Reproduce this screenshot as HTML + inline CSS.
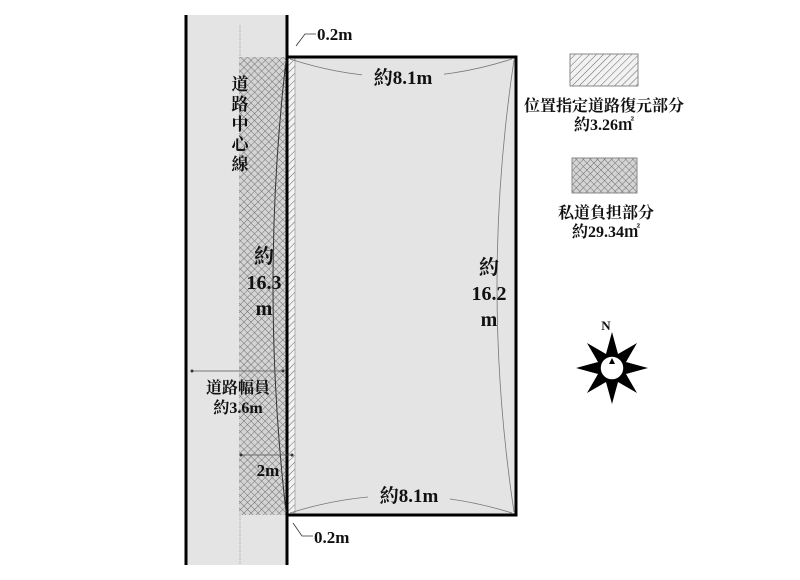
<!DOCTYPE html>
<html><head><meta charset="utf-8">
<style>
body{margin:0;background:#fff;}
svg{display:block;}
text{font-family:"Liberation Serif","Noto Serif CJK SC",serif;fill:#111;font-weight:bold;}
</style></head><body>
<svg width="800" height="580" viewBox="0 0 800 580" xmlns="http://www.w3.org/2000/svg">
<defs>
<pattern id="hatch" width="5" height="5" patternUnits="userSpaceOnUse" patternTransform="rotate(45)">
<rect width="5" height="5" fill="#f2f2f2"/><line x1="0" y1="0" x2="0" y2="5" stroke="#666" stroke-width="1"/>
</pattern>
<pattern id="cross" width="5" height="5" patternUnits="userSpaceOnUse" patternTransform="rotate(45)">
<rect width="5" height="5" fill="#d4d4d4"/><line x1="0" y1="0" x2="0" y2="5" stroke="#666" stroke-width="0.9"/><line x1="0" y1="0" x2="5" y2="0" stroke="#666" stroke-width="0.9"/>
</pattern>
</defs>
<rect x="186" y="15" width="101" height="550" fill="#e4e4e4"/>
<line x1="240" y1="25" x2="240" y2="565" stroke="#999" stroke-width="0.8" stroke-dasharray="1,1"/>
<rect x="239" y="57" width="48" height="458" fill="url(#cross)"/>
<rect x="287" y="57" width="229" height="458" fill="#e4e4e4"/>
<rect x="288" y="57" width="7" height="458" fill="url(#hatch)"/>
<line x1="295" y1="57" x2="295" y2="515" stroke="#999" stroke-width="0.7"/>
<line x1="186" y1="15" x2="186" y2="565" stroke="#000" stroke-width="3"/>
<line x1="287" y1="15" x2="287" y2="565" stroke="#000" stroke-width="3"/>
<polyline points="287,57 516,57 516,515 287,515" fill="none" stroke="#000" stroke-width="3"/>
<path d="M290,59 Q400,95 512,59" fill="none" stroke="#777" stroke-width="0.8"/>
<path d="M290,513 Q400,478 512,513" fill="none" stroke="#777" stroke-width="0.8"/>
<path d="M514,60 Q480,286 514,512" fill="none" stroke="#777" stroke-width="0.8"/>
<path d="M286,60 Q260,286 286,512" fill="none" stroke="#333" stroke-width="1"/>
<rect x="362" y="66" width="82" height="22" fill="#e4e4e4"/>
<text x="403" y="84" font-size="19" text-anchor="middle">約8.1m</text>
<rect x="368" y="484" width="82" height="22" fill="#e4e4e4"/>
<text x="409" y="502" font-size="19" text-anchor="middle">約8.1m</text>
<text x="489" y="274" font-size="20" text-anchor="middle">約</text>
<text x="489" y="300" font-size="20" text-anchor="middle">16.2</text>
<text x="489" y="326" font-size="20" text-anchor="middle">m</text>
<text x="264" y="263" font-size="20" text-anchor="middle">約</text>
<text x="264" y="289" font-size="20" text-anchor="middle">16.3</text>
<text x="264" y="315" font-size="20" text-anchor="middle">m</text>
<g font-size="17" text-anchor="middle">
<text x="240" y="90">道</text><text x="240" y="110">路</text><text x="240" y="130">中</text><text x="240" y="150">心</text><text x="240" y="170">線</text>
</g>
<line x1="192" y1="371" x2="284" y2="371" stroke="#555" stroke-width="0.8"/>
<circle cx="192" cy="371" r="1.5" fill="#333"/><circle cx="283" cy="371" r="1.5" fill="#333"/>
<text x="238" y="393" font-size="16" text-anchor="middle">道路幅員</text>
<text x="238" y="413" font-size="16" text-anchor="middle">約3.6m</text>
<line x1="240" y1="455" x2="293" y2="455" stroke="#555" stroke-width="0.8"/>
<circle cx="241" cy="455" r="1.5" fill="#333"/><circle cx="292" cy="455" r="1.5" fill="#333"/>
<text x="268" y="476" font-size="17" text-anchor="middle">2m</text>
<path d="M296,46 L305,34 L316,34" fill="none" stroke="#333" stroke-width="0.8"/>
<text x="317" y="40" font-size="17">0.2m</text>
<path d="M293,523 L302,536 L313,536" fill="none" stroke="#333" stroke-width="0.8"/>
<text x="314" y="543" font-size="17">0.2m</text>
<rect x="570" y="54" width="68" height="32" fill="url(#hatch)" stroke="#888" stroke-width="1"/>
<text x="604" y="111" font-size="16" text-anchor="middle">位置指定道路復元部分</text>
<text x="604" y="130" font-size="16" text-anchor="middle">約3.26㎡</text>
<rect x="572" y="158" width="65" height="35" fill="url(#cross)" stroke="#888" stroke-width="1"/>
<text x="606" y="218" font-size="16" text-anchor="middle">私道負担部分</text>
<text x="606" y="237" font-size="16" text-anchor="middle">約29.34㎡</text>
<g transform="translate(612,368)">
<polygon points="0,-36 6,-14 25,-25 14,-6 36,0 14,6 25,25 6,14 0,36 -6,14 -25,25 -14,6 -36,0 -14,-6 -25,-25 -6,-14" fill="#000"/>
<circle r="12" fill="#fff" stroke="#000" stroke-width="1.5"/>
<polygon points="0,-10 -3,-4 3,-4" fill="#000"/>
</g>
<text x="606" y="330" font-size="13" text-anchor="middle">N</text>
</svg>
</body></html>
